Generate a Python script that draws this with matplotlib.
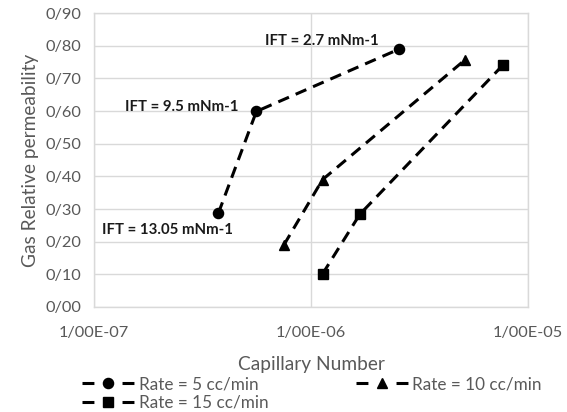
import matplotlib
matplotlib.use("Agg")
import matplotlib.pyplot as plt
from matplotlib.lines import Line2D
from matplotlib.ticker import FixedLocator, FuncFormatter, NullLocator

plt.rcParams["font.family"] = ["Lato", "DejaVu Sans"]

# data
cap_5 = [3.74e-7, 5.6e-7, 2.55e-6]
krg_5 = [0.287, 0.599, 0.79]
cap_10 = [7.5e-7, 1.13e-6, 5.13e-6]
krg_10 = [0.19, 0.39, 0.757]
cap_15 = [1.13e-6, 1.68e-6, 7.7e-6]
krg_15 = [0.101, 0.284, 0.742]

series_labels = ["Rate = 5 cc/min", "Rate = 10 cc/min", "Rate = 15 cc/min"]
ift_labels = ["IFT = 13.05 mNm-1", "IFT = 9.5 mNm-1", "IFT = 2.7 mNm-1"]

x_ticks = [1e-7, 1e-6, 1e-5]
y_ticks = [0.0, 0.1, 0.2, 0.3, 0.4, 0.5, 0.6, 0.7, 0.8, 0.9]

GREY = "#595959"
GRID = "#d9d9d9"

fig = plt.figure(figsize=(5.67, 4.12), dpi=100)
ax = fig.add_axes([0.166, 0.255, 0.765, 0.713])

line_kw = dict(color="black", linestyle=(0, (3.8, 2.4)), linewidth=2.2)
styles = [("o", 7.3), ("^", 7.5), ("s", 6.6)]
for xs, ys, (m, ms) in zip([cap_5, cap_10, cap_15], [krg_5, krg_10, krg_15], styles):
    ax.plot(xs, ys, marker=m, markersize=ms, **line_kw)

ax.set_xscale("log")
ax.set_xlim(1e-7, 1e-5)
ax.set_ylim(0, 0.9)
ax.xaxis.set_major_locator(FixedLocator(x_ticks))
ax.xaxis.set_minor_locator(NullLocator())
ax.yaxis.set_major_locator(FixedLocator(y_ticks))
ax.xaxis.set_major_formatter(FuncFormatter(lambda v, p: f"{v:.2E}".replace(".", "/")))
ax.yaxis.set_major_formatter(FuncFormatter(lambda v, p: f"{v:.2f}".replace(".", "/")))

ax.grid(True, color=GRID, linewidth=1.0)
ax.set_axisbelow(True)
for s in ax.spines.values():
    s.set_color(GRID)
    s.set_linewidth(1.0)
ax.tick_params(length=0, labelsize=11.8, labelcolor=GREY)
ax.tick_params(axis="y", pad=9)
ax.tick_params(axis="x", pad=14)

ax.set_xlabel("Capillary Number", fontsize=13.8, color=GREY, labelpad=11)
ax.set_ylabel("Gas Relative permeability", fontsize=13.8, color=GREY, labelpad=5)

# IFT annotations next to the 5 cc/min points
offsets = [(10.8, -12.2), (-13, 3.4), (-15, 5.5)]
for x, y, txt, (dx, dy) in zip(cap_5, krg_5, ift_labels, offsets):
    ax.annotate(txt, (x, y), xytext=(dx, dy), textcoords="offset points",
                ha="right", va="center", fontsize=10.8, fontweight="bold", color="#1a1a1a")

# legend proxies: short dash, marker, short dash (Excel style)
proxies = [Line2D([], [], color="black", linewidth=2.2, linestyle=(0, (3.9, 9.2)),
                  marker=m, markersize=ms) for m, ms in styles]
order = [0, 2, 1]
fig.legend([proxies[i] for i in order], [series_labels[i] for i in order],
           ncol=2, loc="upper left", bbox_to_anchor=(0.118, 0.124),
           frameon=False, fontsize=12.3, labelcolor=GREY, handlelength=3.04,
           handletextpad=0.28, columnspacing=5.1, labelspacing=0.15,
           borderpad=0.4)

fig.savefig("out.png", dpi=100)
